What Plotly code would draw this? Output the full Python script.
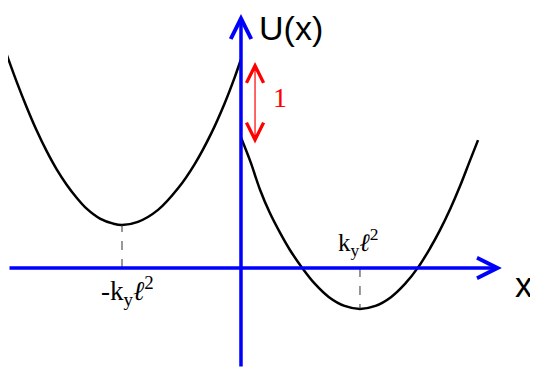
import plotly.graph_objects as go

# potential wells (x in units of k_y l^2, U in units of the step "1")
left_x = [-1.969, -1.885, -1.801, -1.717, -1.633, -1.549, -1.465, -1.381, -1.297, -1.185,
          -1.073, -1.0, -0.866, -0.697, -0.529, -0.389, -0.250, -0.137, -0.053, 0.0]
left_u = [2.455, 2.140, 1.848, 1.580, 1.343, 1.134, 0.958, 0.808, 0.682, 0.568,
          0.510, 0.494, 0.530, 0.668, 0.916, 1.195, 1.548, 1.895, 2.192, 2.400]
right_x = [0.0, 0.08, 0.16, 0.24, 0.33, 0.41, 0.51, 0.62, 0.74, 0.87, 1.0,
           1.13, 1.26, 1.38, 1.49, 1.59, 1.67, 1.76, 1.84, 1.92, 1.992]
right_u = [1.50, 1.22, 0.90, 0.64, 0.40, 0.21, 0.01, -0.18, -0.335, -0.436, -0.47,
           -0.436, -0.335, -0.18, 0.01, 0.23, 0.43, 0.685, 0.94, 1.22, 1.47]

min_x = [-1.0, 1.0]
min_u = [0.494, -0.47]
min_labels = ["-k<sub>y</sub><i>ℓ</i><sup>2</sup>", "k<sub>y</sub><i>ℓ</i><sup>2</sup>"]

step_top = 2.368
step_bottom = 1.414
step_label = "1"

fig = go.Figure()

fig.add_trace(go.Scatter(x=left_x, y=left_u, mode="lines", line_shape="spline",
                         line=dict(color="black", width=2.5)))
fig.add_trace(go.Scatter(x=right_x, y=right_u, mode="lines", line_shape="spline",
                         line=dict(color="black", width=2.5)))

# dashed drop lines from each minimum to the x axis
for mx, mu in zip(min_x, min_u):
    fig.add_trace(go.Scatter(x=[mx, mx], y=[0, mu], mode="lines",
                             line=dict(color="#333333", width=1, dash="dash")))

# axes drawn as arrows
fig.add_annotation(x=2.193, y=0, ax=-1.958, ay=0, axref="x", ayref="y", text="",
                   showarrow=True, arrowhead=5, arrowsize=1.15, arrowwidth=3.5,
                   arrowcolor="#0000ff")
fig.add_annotation(x=0, y=2.92, ax=0, ay=-1.149, axref="x", ayref="y", text="",
                   showarrow=True, arrowhead=5, arrowsize=1.15, arrowwidth=3.5,
                   arrowcolor="#0000ff")

# red double arrow for the step
fig.add_annotation(x=0.118, y=step_top, ax=0.118, ay=step_bottom, axref="x", ayref="y",
                   text="", showarrow=True, arrowside="end+start",
                   arrowhead=5, startarrowhead=5, arrowsize=2.8, startarrowsize=2.8,
                   arrowwidth=1.2, arrowcolor="red")
fig.add_annotation(x=0.328, y=(step_top + step_bottom) / 2 + 0.07, text=step_label,
                   showarrow=False,
                   font=dict(family="Liberation Serif", size=28, color="red"))

# labels
fig.add_annotation(x=min_x[0] + 0.045, y=-0.27, text=min_labels[0], showarrow=False,
                   font=dict(family="Liberation Serif", size=27, color="black"))
fig.add_annotation(x=min_x[1] - 0.02, y=0.30, text=min_labels[1], showarrow=False,
                   font=dict(family="Liberation Serif", size=25, color="black"))
fig.add_annotation(x=0.42, y=2.76, text="U(x)", showarrow=False,
                   font=dict(family="Liberation Sans", size=34, color="black"))
fig.add_annotation(x=2.378, y=-0.19, text="x", showarrow=False,
                   font=dict(family="Liberation Sans", size=35, color="black"))

# the page body adds an 8px margin, so the figure is 8px smaller and the ranges start there
fig.update_xaxes(range=[-1.958, 2.496], visible=False)
fig.update_yaxes(range=[-1.207, 2.989], visible=False)
fig.update_layout(width=530, height=365, margin=dict(l=0, r=0, t=0, b=0),
                  showlegend=False, plot_bgcolor="white", paper_bgcolor="white")

fig.write_html("out.html")
